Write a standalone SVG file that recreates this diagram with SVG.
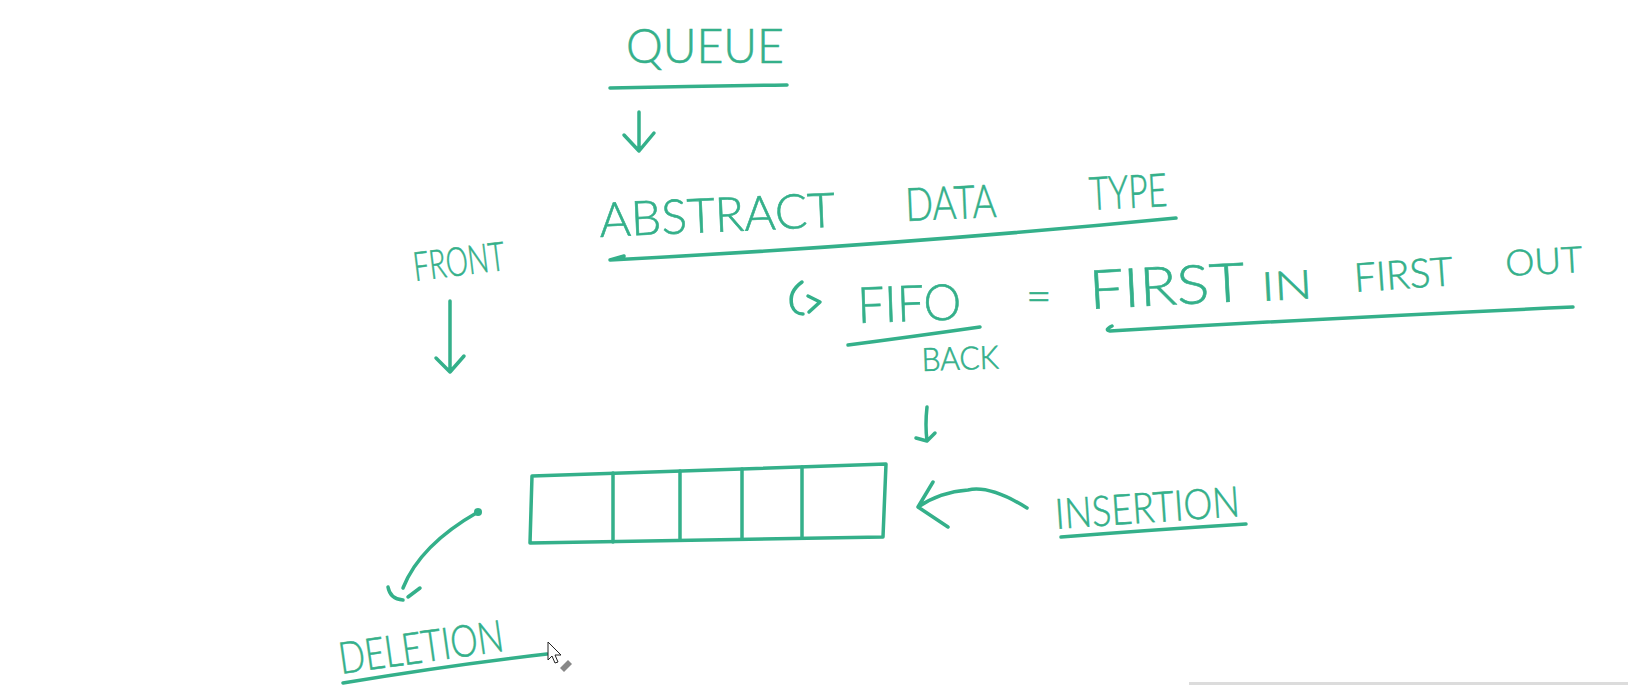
<svg xmlns="http://www.w3.org/2000/svg" width="1628" height="685" viewBox="0 0 1628 685">
<style>
.t{font-family:"Lato","Liberation Sans","DejaVu Sans",sans-serif;font-weight:300;fill:#34b08a;stroke:#34b08a;stroke-width:0.6;}
.s{fill:none;stroke:#34b08a;stroke-width:3.5;stroke-linecap:round;stroke-linejoin:round;}
</style>
<rect width="1628" height="685" fill="#ffffff"/>
<g id="queue-title">
<text class="t" x="626" y="63" font-size="48" textLength="158" lengthAdjust="spacingAndGlyphs">QUEUE</text>
<path class="s" d="M610,88 Q700,86 787,85"/>
</g>
<g id="adt">
<text class="t" x="600" y="237" font-size="48" textLength="236" lengthAdjust="spacingAndGlyphs" transform="rotate(-2.5 600 237)">ABSTRACT</text>
<text class="t" x="906" y="221" font-size="46" textLength="91" lengthAdjust="spacingAndGlyphs" transform="rotate(-2.5 906 221)">DATA</text>
<text class="t" x="1090" y="210" font-size="46" textLength="78" lengthAdjust="spacingAndGlyphs" transform="rotate(-3 1090 210)">TYPE</text>
</g>
<g id="front">
<text class="t" x="415" y="281" font-size="40" textLength="92" lengthAdjust="spacingAndGlyphs" transform="rotate(-7 415 281)">FRONT</text>
</g>
<g id="fifo">
<text class="t" x="858" y="323" font-size="50" textLength="104" lengthAdjust="spacingAndGlyphs" transform="rotate(-2 858 323)">FIFO</text>
<path class="s" d="M848,345 Q910,337 980,327"/>
</g>
<g id="equals">
<text class="t" x="1026" y="312" font-size="44">=</text>
</g>
<g id="fifo-def">
<text class="t" x="1090" y="309" font-size="54" textLength="156" lengthAdjust="spacingAndGlyphs" transform="rotate(-3 1090 309)">FIRST</text>
<text class="t" x="1262" y="301" font-size="40" textLength="51" lengthAdjust="spacingAndGlyphs" transform="rotate(-3 1262 301)">IN</text>
<text class="t" x="1355" y="292" font-size="40" textLength="99" lengthAdjust="spacingAndGlyphs" transform="rotate(-4 1355 292)">FIRST</text>
<text class="t" x="1506" y="276" font-size="36" textLength="77" lengthAdjust="spacingAndGlyphs" transform="rotate(-3 1506 276)">OUT</text>
<path class="s" d="M1573,307 Q1330,318 1110,331 Q1104,330 1112,326"/>
</g>
<g id="back">
<text class="t" x="922" y="371" font-size="32" textLength="77" lengthAdjust="spacingAndGlyphs" transform="rotate(-2 922 371)">BACK</text>
</g>
<g id="queue-array">
<path class="s" d="M532,476 L886,464 L883,537 L530,543 Z"/>
<path class="s" d="M613,473 L613,542 M680,471 L680,540 M742,469 L742,539 M802,467 L802,538"/>
</g>
<g id="insertion">
<text class="t" x="1056" y="529" font-size="42" textLength="185" lengthAdjust="spacingAndGlyphs" transform="rotate(-4 1056 529)">INSERTION</text>
<path class="s" d="M1061,537 Q1150,530 1246,524"/>
</g>
<g id="deletion">
<text class="t" x="341" y="674" font-size="44" textLength="166" lengthAdjust="spacingAndGlyphs" transform="rotate(-8 341 674)">DELETION</text>
<path class="s" d="M343,683 Q450,665 547,654"/>
</g>
<g id="connectors">
<path class="s" d="M639,112 L639,151 M624,135 L639,151 L654,133"/>
<path class="s" d="M1176,218 Q900,245 610,260 L624,256"/>
<path class="s" d="M450,301 L450,372 M436,358 L450,372 L464,356"/>
<path class="s" d="M802,282 Q788,292 792,306 Q795,314 803,314 M808,296 L820,302 L809,312"/>
<path class="s" d="M927,407 Q925,425 927,441 M916,438 L927,441 L935,433"/>
<path class="s" d="M1027,508 Q990,485 968,490 Q940,492 918,507 M933,482 L918,507 L948,527"/>
<circle cx="478" cy="512" r="4" fill="#34b08a"/>
<path class="s" d="M478,512 Q420,545 403,588"/>
<path class="s" d="M388,587 Q390,599 403,600 M408,597 L420,588"/>
</g>
<g id="cursor">
<path d="M548,642 L548,660 L552,656 L555,663 L558,662 L555,655 L561,655 Z" fill="#ffffff" stroke="#222" stroke-width="1"/>
<path d="M560,668 L568,660 L572,664 L564,672 Z" fill="#888"/>
</g>
<rect x="1189" y="682" width="439" height="3" fill="#dcdcdc"/>
</svg>
